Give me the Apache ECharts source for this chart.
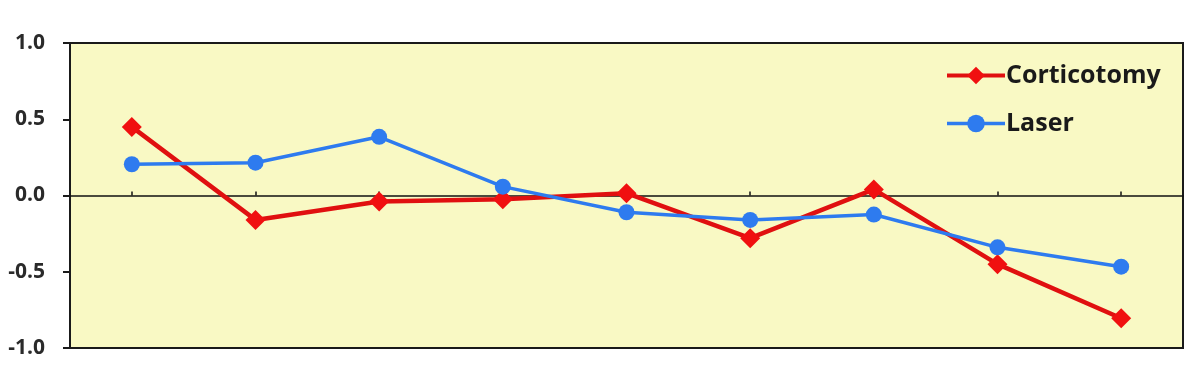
<!DOCTYPE html>
<html><head><meta charset="utf-8">
<script src="https://cdn.jsdelivr.net/npm/echarts@6/dist/echarts.min.js"></script>
<style>html,body{margin:0;padding:0;background:#fff}#c{width:1200px;height:366px}</style>
</head><body><div id="c"></div>
<script>
const categories = ['1','2','3','4','5','6','7','8','9'];
const corticotomy = [0.45, -0.16, -0.04, -0.025, 0.015, -0.28, 0.04, -0.45, -0.805];
const laser = [0.205, 0.215, 0.385, 0.058, -0.11, -0.16, -0.125, -0.34, -0.467];
const yTicks = [-1.0, -0.5, 0.0, 0.5, 1.0];

const chart = echarts.init(document.getElementById('c'));
chart.setOption({
  animation: false,
  backgroundColor: '#ffffff',
  grid: {left: 70, right: 17, top: 43, bottom: 18, show: true, backgroundColor: '#F9F9C4', borderColor: '#1a1a1a', borderWidth: 2},
  legend: {
    orient: 'vertical', left: 940, top: 58, itemGap: 23, itemWidth: 58, itemHeight: 22,
    textStyle: {fontFamily: 'Open Sans', fontWeight: 'bold', fontSize: 25, color: '#1a1a1a', padding: [0,0,0,-4]},
    data: [
      {name: 'Corticotomy', lineStyle: {width: 4}},
      {name: 'Laser', lineStyle: {width: 3.5}}
    ]
  },
  xAxis: {
    type: 'category', data: categories, boundaryGap: true,
    axisLine: {onZero: true, lineStyle: {color: '#111', width: 1.5}},
    axisTick: {show: true, inside: true, length: 4, alignWithLabel: true, lineStyle: {color: '#111', width: 1.5}},
    axisLabel: {show: false}, splitLine: {show: false}
  },
  yAxis: {
    type: 'value', min: yTicks[0], max: yTicks[yTicks.length-1], interval: 0.5,
    axisLine: {show: true, lineStyle: {color: '#1a1a1a', width: 2}},
    axisTick: {show: true, length: 7, lineStyle: {color: '#1a1a1a', width: 2}},
    axisLabel: {formatter: v => v.toFixed(1), fontFamily: 'Open Sans', fontWeight: 'bold', fontSize: 21, color: '#2a2a2a', margin: 25},
    splitLine: {show: false}
  },
  series: [
    {name: 'Corticotomy', type: 'line', data: corticotomy, symbol: 'diamond', symbolSize: 20,
     lineStyle: {color: '#E01010', width: 4.5}, itemStyle: {color: '#F01010'}, z: 3},
    {name: 'Laser', type: 'line', data: laser, symbol: 'circle', symbolSize: 16,
     lineStyle: {color: '#2E7BEF', width: 3.5}, itemStyle: {color: '#2E7BEF'}, z: 4}
  ]
});
</script></body></html>
